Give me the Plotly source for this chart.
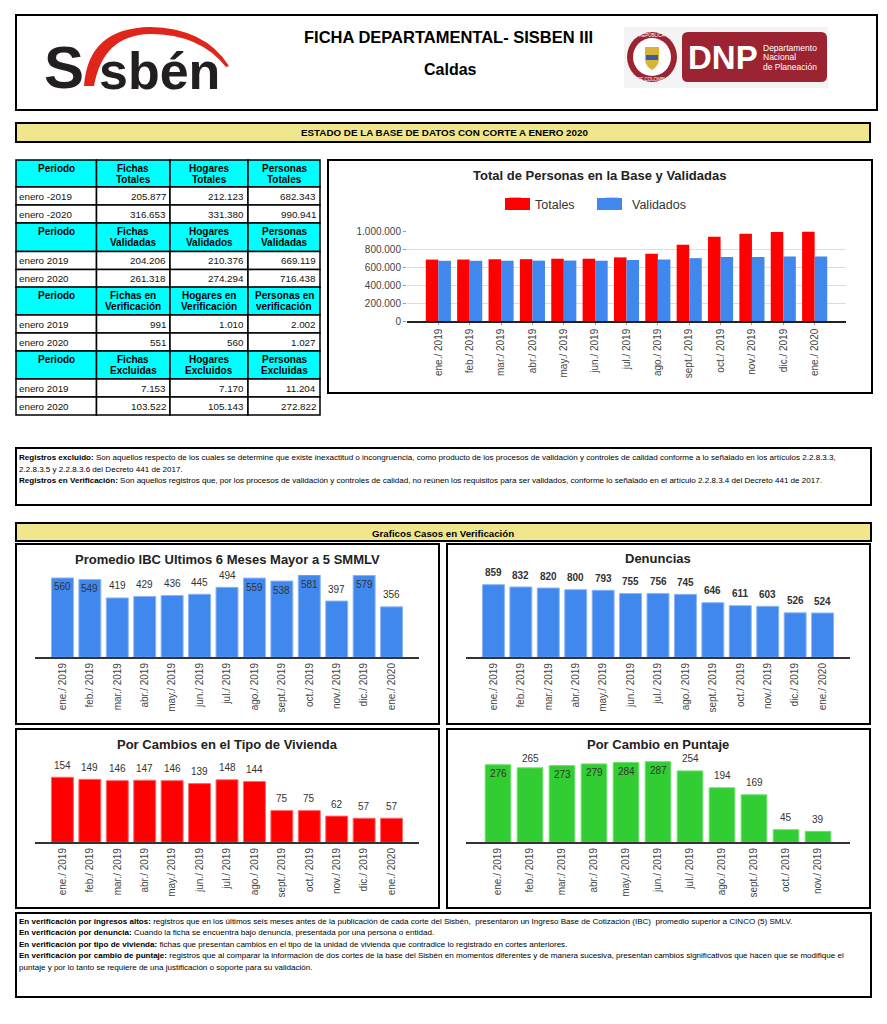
import plotly.graph_objects as go

W, H = 887, 1024

# ---------- data ----------
months = ["ene./ 2019", "feb./ 2019", "mar./ 2019", "abr./ 2019", "may./ 2019", "jun./ 2019", "jul./ 2019",
          "ago./ 2019", "sept./ 2019", "oct./ 2019", "nov./ 2019", "dic./ 2019", "ene./ 2020"]
personas_totales = [682343, 683000, 686000, 687000, 692000, 692000, 707000, 748000, 848000, 935000, 970000, 990000, 990941]
personas_validados = [669119, 669000, 670000, 671000, 672000, 670000, 678000, 683000, 698000, 712000, 712000, 716000, 716438]
ibc = [560, 549, 419, 429, 436, 445, 494, 559, 538, 581, 397, 579, 356]
denuncias = [859, 832, 820, 800, 793, 755, 756, 745, 646, 611, 603, 526, 524]
vivienda = [154, 149, 146, 147, 146, 139, 148, 144, 75, 75, 62, 57, 57]
puntaje = [276, 265, 273, 279, 284, 287, 254, 194, 169, 45, 39]

table_headers = [
    ["Periodo", "Fichas<br>Totales", "Hogares<br>Totales", "Personas<br>Totales"],
    ["Periodo", "Fichas<br>Validadas", "Hogares<br>Validados", "Personas<br>Validadas"],
    ["Periodo", "Fichas en<br>Verificación", "Hogares en<br>Verificación", "Personas en<br>verificación"],
    ["Periodo", "Fichas<br>Excluidas", "Hogares<br>Excluidos", "Personas<br>Excluidas"],
]
table_rows = [
    [["enero -2019", "205.877", "212.123", "682.343"], ["enero -2020", "316.653", "331.380", "990.941"]],
    [["enero 2019", "204.206", "210.376", "669.119"], ["enero 2020", "261.318", "274.294", "716.438"]],
    [["enero 2019", "991", "1.010", "2.002"], ["enero 2020", "551", "560", "1.027"]],
    [["enero 2019", "7.153", "7.170", "11.204"], ["enero 2020", "103.522", "105.143", "272.822"]],
]
notes_1 = [
    "<b>Registros excluido:</b> Son aquellos respecto de los cuales se determine que existe inexactitud o incongruencia, como producto de los procesos de validación y controles de calidad conforme a lo señalado en los artículos 2.2.8.3.3,",
    "2.2.8.3.5 y 2.2.8.3.6 del Decreto 441 de 2017.",
    "<b>Registros en Verificación:</b> Son aquellos registros que, por los procesos de validación y controles de calidad, no reúnen los requisitos para ser validados, conforme lo señalado en el artículo 2.2.8.3.4 del Decreto 441 de 2017.",
]
notes_2 = [
    "<b>En verificación por ingresos altos:</b> registros que en los últimos seis meses antes de la publicación de cada corte del Sisbén,  presentaron un Ingreso Base de Cotización (IBC)  promedio superior a CINCO (5) SMLV.",
    "<b>En verificación por denuncia:</b> Cuando la ficha se encuentra bajo denuncia, presentada por una persona o entidad.",
    "<b>En verificación por tipo de vivienda:</b> fichas que presentan cambios en el tipo de la unidad de vivienda que contradice lo registrado en cortes anteriores.",
    "<b>En verificación por cambio de puntaje:</b> registros que al comparar la información de dos cortes de la base del Sisbén en momentos diferentes y de manera sucesiva, presentan cambios significativos que hacen que se modifique el",
    "puntaje y por lo tanto se requiere de una justificación o soporte para su validación.",
]

# ---------- style ----------
FONT = "Liberation Sans, Arial, sans-serif"
BLUE, RED, GREEN = "#4087ee", "#ff0000", "#32cd32"
BLUE_E, RED_E, GREEN_E = "#8ab6f6", "#ff6a6a", "#70e070"
KHAKI, CYAN = "#f0e68c", "#00ffff"
DNP_RED = "#9c2331"


def X(p):
    return p / W


def Y(p):
    return 1 - p / H


shapes, annots = [], []


def rect(x0, y0, x1, y1, fill="rgba(0,0,0,0)", line="#000000", lw=2, layer="below"):
    shapes.append(dict(type="rect", xref="paper", yref="paper", x0=X(x0), x1=X(x1), y0=Y(y0), y1=Y(y1),
                       fillcolor=fill, line=dict(color=line, width=lw), layer=layer))


def text(x, y, s, size=9, anchor="center", color="#000000", bold=False, family=FONT, yanchor="middle"):
    annots.append(dict(xref="paper", yref="paper", x=X(x), y=Y(y), text=f"<b>{s}</b>" if bold else s,
                       showarrow=False, xanchor=anchor, yanchor=yanchor, borderpad=0, borderwidth=0,
                       font=dict(size=size, color=color, family=family), align=anchor))


def path(points_svg, fill, line=None, lw=0):
    shapes.append(dict(type="path", xref="paper", yref="paper", path=points_svg, fillcolor=fill,
                       line=dict(color=line or fill, width=lw), layer="above"))


def P(x, y):
    return f"{X(x):.5f},{Y(y):.5f}"


# ---------- page frames ----------
rect(16, 15, 877, 110)
rect(16, 123, 870, 142, fill=KHAKI)
rect(328, 160, 872, 393)
rect(16, 448, 871, 505)
rect(16, 523, 871, 541, fill=KHAKI)
rect(16, 544, 439, 724)
rect(447, 544, 870, 724)
rect(16, 729, 439, 908)
rect(447, 729, 870, 908)
rect(16, 913, 871, 997)

text(449, 37, "FICHA DEPARTAMENTAL- SISBEN III", size=16.5, bold=True)
text(450, 69, "Caldas", size=16, bold=True)
text(444, 132.5, "ESTADO DE LA BASE DE DATOS CON CORTE A ENERO 2020", size=9.8, bold=True)
text(443, 533, "Graficos Casos en Verificación", size=9.7, bold=True)

# ---------- Sisbén logo ----------
path(f"M{P(84,86)} Q{P(88,28)} {P(150,27)} Q{P(205,28)} {P(229,66)} L{P(226,67)} "
     f"Q{P(200,34)} {P(150,34)} Q{P(103,35)} {P(94,86)} Z", "#e0251b")
text(44, 101, "S", size=60, anchor="left", color="#231f20", bold=True, yanchor="bottom")
text(99, 100, "sbén", size=52, anchor="left", color="#231f20", bold=True, yanchor="bottom")

# ---------- DNP logo ----------
rect(624, 27, 828, 88, fill="#f3f3f3", line="#f3f3f3", lw=0)
path(f"M{P(688,32)} L{P(821,32)} Q{P(827,32)} {P(827,38)} L{P(827,76)} Q{P(827,82)} {P(821,82)} "
     f"L{P(688,82)} Q{P(682,82)} {P(682,76)} L{P(682,38)} Q{P(682,32)} {P(688,32)} Z", DNP_RED)
for r, col in ((25, DNP_RED), (19, "#ffffff")):
    shapes.append(dict(type="circle", xref="paper", yref="paper", x0=X(652 - r), x1=X(652 + r), y0=Y(57 + r),
                       y1=Y(57 - r), fillcolor=col, line=dict(color=col, width=0), layer="above"))
path(f"M{P(645,47)} L{P(659,47)} L{P(659,60)} Q{P(658,67)} {P(652,70)} Q{P(646,67)} {P(645,60)} Z", "#d9b23a")
path(f"M{P(646,55)} L{P(658,55)} L{P(658,60)} L{P(646,60)} Z", "#3a5da8")
text(652, 35, "REPÚBLICA", size=4.5, color="#ffffff")
text(652, 79, "DE COLOMBIA", size=4.5, color="#ffffff")
text(723, 57, "DNP", size=33, color="#ffffff", bold=True)
for yy, s in ((47.5, "Departamento"), (57, "Nacional"), (67, "de Planeación")):
    text(763, yy, s, size=8.5, anchor="left", color="#ffffff")

# ---------- table ----------
col_x = [16, 96.5, 170, 248, 320]
head_top = [160, 223, 287, 351]
head_bot = [187, 251.5, 315, 379]
row_h = 18
for g, headers in enumerate(table_headers):
    for c, h in enumerate(headers):
        rect(col_x[c], head_top[g], col_x[c + 1], head_bot[g], fill=CYAN, lw=1.5)
        for k, part in enumerate(h.split("<br>")):
            text((col_x[c] + col_x[c + 1]) / 2, head_top[g] + 8.7 + 11 * k, part, size=10, bold=True)
    for r, row in enumerate(table_rows[g]):
        top = head_bot[g] + r * row_h
        for c, v in enumerate(row):
            rect(col_x[c], top, col_x[c + 1], top + row_h, fill="#ffffff", lw=1.5)
            if c == 0:
                text(col_x[c] + 3, top + row_h / 2, v, size=9.8, anchor="left", color="#111111")
            else:
                text(col_x[c + 1] - 4, top + row_h / 2, v, size=9.8, anchor="right", color="#111111")

# ---------- notes ----------
for yy, s in zip((457.5, 469, 480), notes_1):
    text(19, yy, s, size=8.05, anchor="left")
for yy, s in zip((921.5, 932.5, 944.5, 955.5, 967), notes_2):
    text(19, yy, s, size=8.05, anchor="left")

# ---------- charts ----------
fig = go.Figure()

# main chart
fig.add_trace(go.Bar(x=months, y=personas_totales, name="Totales", marker=dict(color=RED, line=dict(color=RED, width=0)),
                     xaxis="x", yaxis="y"))
fig.add_trace(go.Bar(x=months, y=personas_validados, name="Validados", marker=dict(color=BLUE, line=dict(color=BLUE, width=0)),
                     xaxis="x", yaxis="y"))
text(599.5, 175, "Total de Personas en la Base y Validadas", size=13, bold=True, color="#222222")
rect(505, 198, 530, 210, fill=RED, line=RED, lw=0)
rect(597, 198, 622, 210, fill=BLUE, line=BLUE, lw=0)

tickfont = dict(size=10, color="#444444", family=FONT)
axes = {
    "xaxis": dict(domain=[X(407), X(846)], anchor="y", type="category", range=[-1, 13], tickmode="array",
                  tickvals=months, ticktext=months, tickangle=-90, tickfont=tickfont, showgrid=False,
                  showline=True, linecolor="#222222", linewidth=1.5, ticks="outside", ticklen=2, tickcolor="#999999"),
    "yaxis": dict(domain=[Y(321), Y(231)], anchor="x", range=[0, 1000000], tick0=0, dtick=200000, tickformat=",d",
                  tickfont=tickfont, showgrid=True, gridcolor="#dddddd", gridwidth=1.2, zeroline=False,
                  showline=False, ticks="outside", ticklen=3, tickcolor="#999999"),
}

small_charts = [
    dict(title="Promedio IBC Ultimos 6 Meses Mayor a 5 SMMLV", values=ibc, cats=months, color=BLUE, edge=BLUE_E,
         x0=35, x1=419, base=657.3, top=575, ymax=581, tcx=227, tcy=559, inside_above=500, bold=False),
    dict(title="Denuncias", values=denuncias, cats=months, color=BLUE, edge=BLUE_E,
         x0=466, x1=850, base=657.3, top=572.8, ymax=1000, tcx=658, tcy=558.5, inside_above=10000, bold=True),
    dict(title="Por Cambios en el Tipo de Vivienda", values=vivienda, cats=months, color=RED, edge=RED_E,
         x0=35, x1=419, base=842.3, top=765, ymax=183, tcx=227, tcy=744, inside_above=10000, bold=False),
    dict(title="Por Cambio en Puntaje", values=puntaje, cats=months[:11], color=GREEN, edge=GREEN_E,
         x0=466, x1=850, base=842.3, top=758.7, ymax=297.5, tcx=658, tcy=744, inside_above=270, bold=False),
]

for i, ch in enumerate(small_charts, start=2):
    xa, ya = f"x{i}", f"y{i}"
    fig.add_trace(go.Bar(x=ch["cats"], y=ch["values"], showlegend=False,
                         marker=dict(color=ch["color"], line=dict(color=ch["edge"], width=1)), xaxis=xa, yaxis=ya))
    n = len(ch["cats"])
    axes[f"xaxis{i}"] = dict(domain=[X(ch["x0"]), X(ch["x1"])], anchor=ya, type="category", range=[-1, n],
                             tickmode="array", tickvals=ch["cats"], ticktext=ch["cats"], tickangle=-90,
                             tickfont=tickfont, showgrid=False, showline=True, linecolor="#333333", linewidth=1.5,
                             ticks="", ticklen=0)
    axes[f"yaxis{i}"] = dict(domain=[Y(ch["base"]), Y(ch["top"])], anchor=xa, range=[0, ch["ymax"]], visible=False)
    text(ch["tcx"], ch["tcy"], ch["title"], size=13, bold=True, color="#222222")
    scale = (ch["base"] - ch["top"]) / ch["ymax"]
    for c, v in zip(ch["cats"], ch["values"]):
        shift = -9 if v > ch["inside_above"] else min(12, (ch["ymax"] - v) * scale)
        label = f"<b>{v}</b>" if ch["bold"] else str(v)
        annots.append(dict(xref=xa, yref=ya, x=c, y=v, yshift=shift, text=label, showarrow=False, xanchor="center",
                           yanchor="middle", font=dict(size=10, color="#333333", family=FONT)))

fig.update_layout(
    width=W, height=H, margin=dict(l=0, r=0, t=0, b=0, pad=0, autoexpand=False), autosize=False,
    paper_bgcolor="#ffffff", plot_bgcolor="rgba(0,0,0,0)",
    font=dict(family=FONT), separators=",.", barmode="group", bargap=0.2, bargroupgap=0,
    shapes=shapes, annotations=annots,
    legend=dict(orientation="h", x=X(495), y=Y(204), xanchor="left", yanchor="middle", itemclick=False, itemdoubleclick=False,
                font=dict(size=12.5, color="#333333", family=FONT), bgcolor="rgba(0,0,0,0)", entrywidth=52, entrywidthmode="pixels"),
    **axes,
)

fig.write_html("out.html", config=dict(displayModeBar=False), post_script="document.body.style.margin='0';")
